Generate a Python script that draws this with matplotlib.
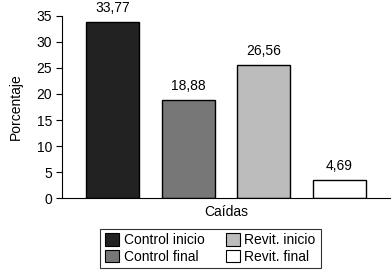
import matplotlib
matplotlib.use("Agg")
import matplotlib.pyplot as plt
from matplotlib.patches import Patch

plt.rcParams['font.family'] = ['Liberation Sans', 'DejaVu Sans']

categories = ["Control inicio", "Control final", "Revit. inicio", "Revit. final"]
heights = [33.77, 18.88, 25.5, 3.6]          # bar heights as drawn
labels = ["33,77", "18,88", "26,56", "4,69"]  # printed values
colors = ["#222222", "#777777", "#bcbcbc", "#ffffff"]
yticks = [0, 5, 10, 15, 20, 25, 30, 35]

FS = 10

fig = plt.figure(figsize=(3.92, 2.73), dpi=100)
ax = fig.add_axes([0.158, 0.273, 0.837, 0.670])

x = range(len(categories))
ax.bar(x, heights, width=0.7, color=colors, edgecolor="black", linewidth=1.0)
for xi, h, lab in zip(x, heights, labels):
    ax.text(xi, h + 1.3, lab, ha="center", va="bottom", fontsize=FS)

ax.set_xlim(-0.67, 3.67)
ax.set_ylim(0, 35)
ax.set_yticks(yticks)
ax.set_yticklabels([str(t) for t in yticks], fontsize=FS)
ax.set_xticks([])
ax.spines['top'].set_visible(False)
ax.spines['right'].set_visible(False)
ax.tick_params(axis='y', length=4, width=0.8, pad=3)
ax.set_ylabel("Porcentaje", fontsize=FS, labelpad=10)
ax.set_xlabel("Caídas", fontsize=FS, labelpad=5)

handles = [Patch(facecolor=c, edgecolor="black", linewidth=0.8) for c in colors]
leg = fig.legend(handles, categories, loc="center", bbox_to_anchor=(210.5/392, 1-248.5/273),
                 ncol=2, fontsize=FS, frameon=True, fancybox=False, edgecolor="black",
                 handlelength=1.0, handleheight=1.0, handletextpad=0.35, columnspacing=1.5,
                 labelspacing=0.15, borderpad=0.35)
leg.get_frame().set_linewidth(0.8)

fig.savefig("out.png", dpi=100)
